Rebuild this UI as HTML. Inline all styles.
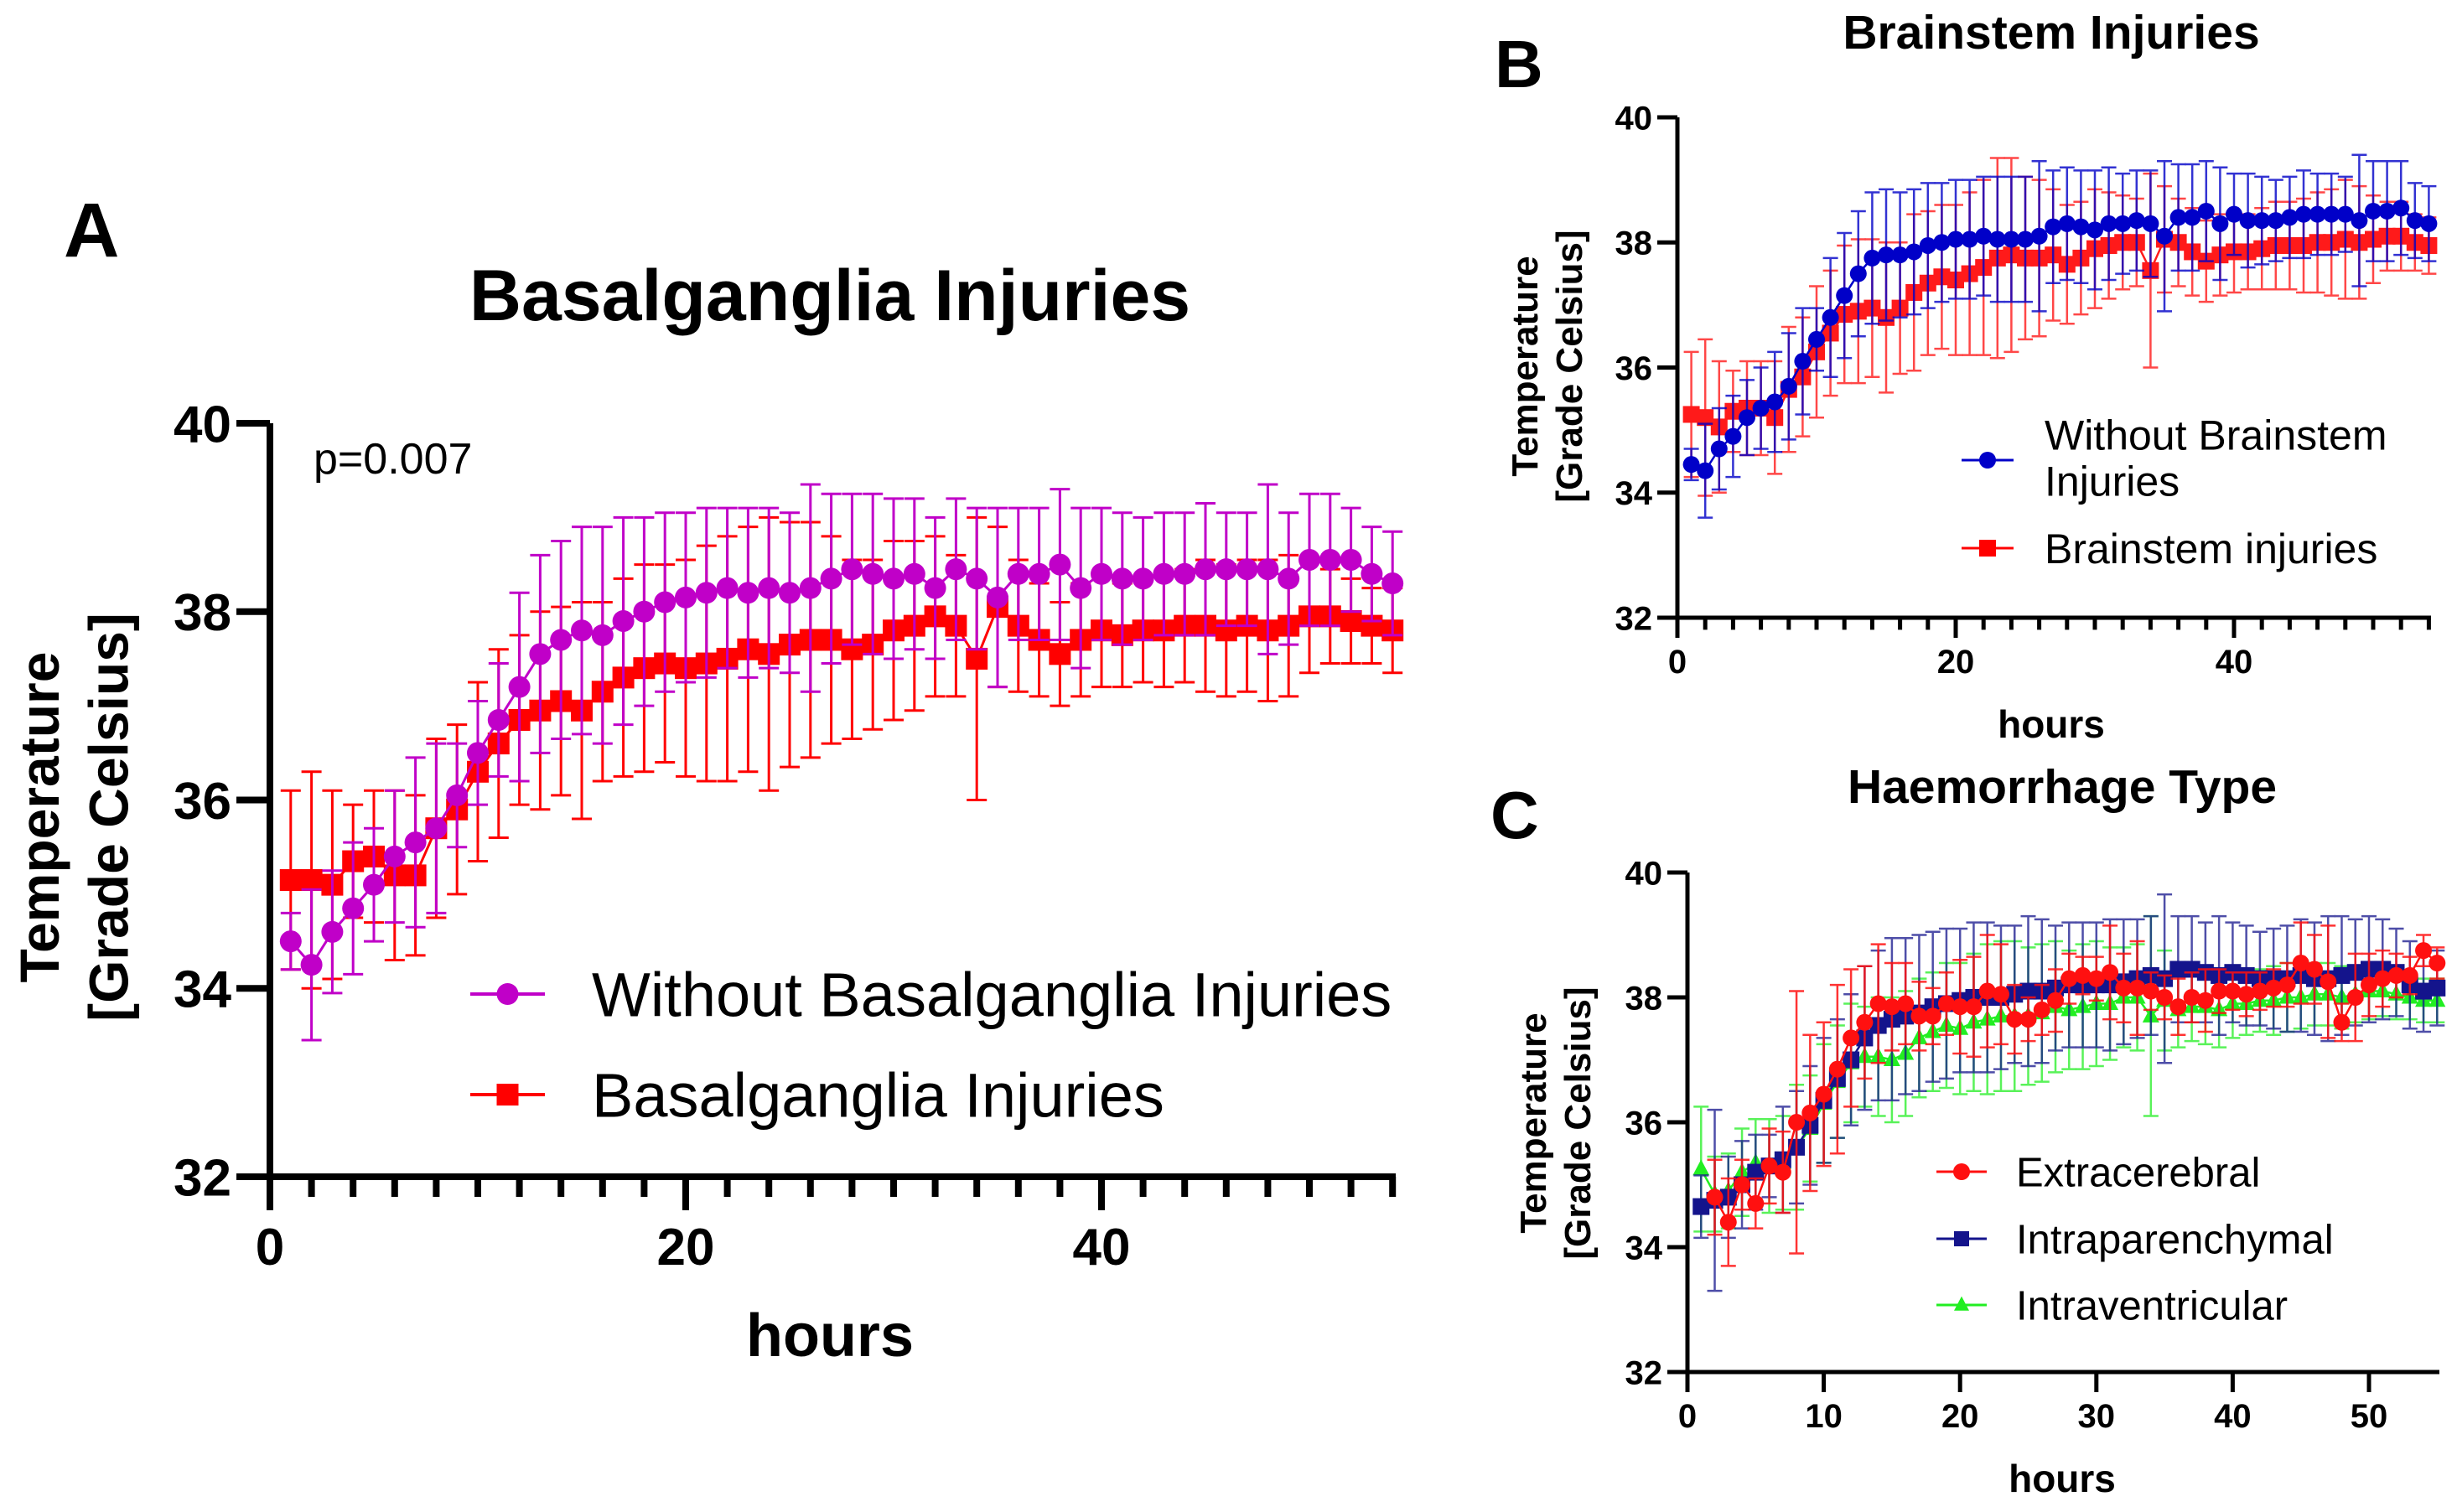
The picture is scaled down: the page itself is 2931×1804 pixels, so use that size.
<!DOCTYPE html>
<html><head><meta charset="utf-8"><style>
html,body{margin:0;padding:0;background:#fff;}
svg{display:block;}
.t{font-family:"Liberation Sans",sans-serif;}
.n{font-family:"Liberation Sans Narrow","Liberation Sans",sans-serif;}
</style></head><body>
<svg id="fig" width="2931" height="1804" viewBox="0 0 2931 1804" xmlns="http://www.w3.org/2000/svg">
<rect width="2931" height="1804" fill="#fff"/>
</svg>
<script>
// ---- Panel A data ----
const hoursA = [1,2,3,4,5,6,7,8,9,10,11,12,13,14,15,16,17,18,19,20,21,22,23,24,25,26,27,28,29,30,31,32,33,34,35,36,37,38,39,40,41,42,43,44,45,46,47,48,49,50,51,52,53,54];
const aWithout = [34.5,34.25,34.6,34.85,35.1,35.4,35.55,35.7,36.05,36.5,36.85,37.2,37.55,37.7,37.8,37.75,37.9,38.0,38.1,38.15,38.2,38.25,38.2,38.25,38.2,38.25,38.35,38.45,38.4,38.35,38.4,38.25,38.45,38.35,38.15,38.4,38.4,38.5,38.25,38.4,38.35,38.35,38.4,38.4,38.45,38.45,38.45,38.45,38.35,38.55,38.55,38.55,38.4,38.3];
const aWithoutErr = [0.3,0.8,0.65,0.7,0.6,0.7,0.9,0.9,0.55,0.55,0.6,1.0,1.05,1.05,1.1,1.15,1.1,1.0,0.95,0.9,0.9,0.85,0.9,0.85,0.85,1.1,0.9,0.8,0.85,0.85,0.8,0.75,0.75,0.75,0.95,0.7,0.7,0.8,0.85,0.7,0.7,0.65,0.65,0.65,0.7,0.6,0.6,0.9,0.7,0.7,0.7,0.55,0.5,0.55];
const aWith = [35.15,35.15,35.1,35.35,35.4,35.2,35.2,35.7,35.9,36.3,36.6,36.85,36.95,37.05,36.95,37.15,37.3,37.4,37.45,37.4,37.45,37.5,37.6,37.55,37.65,37.7,37.7,37.6,37.65,37.8,37.85,37.95,37.85,37.5,38.05,37.85,37.7,37.55,37.7,37.8,37.75,37.8,37.8,37.85,37.85,37.8,37.85,37.8,37.85,37.95,37.95,37.9,37.85,37.8];
const aWithErr = [0.95,1.15,1.0,0.6,0.7,0.9,0.85,0.95,0.9,0.95,1.0,0.9,1.05,1.0,1.15,0.95,1.05,1.1,1.05,1.15,1.25,1.3,1.3,1.45,1.3,1.25,1.1,0.95,0.9,0.95,0.9,0.85,0.75,1.5,0.85,0.7,0.6,0.55,0.6,0.6,0.55,0.55,0.6,0.6,0.7,0.7,0.7,0.75,0.75,0.6,0.5,0.45,0.4,0.45];
// ---- Panel B data ----
const hoursB = hoursA;
const bWithout = [34.45,34.35,34.7,34.9,35.2,35.35,35.45,35.7,36.1,36.45,36.8,37.15,37.5,37.75,37.8,37.8,37.85,37.95,38.0,38.05,38.05,38.1,38.05,38.05,38.05,38.1,38.25,38.3,38.25,38.2,38.3,38.3,38.35,38.3,38.1,38.4,38.4,38.5,38.3,38.45,38.35,38.35,38.35,38.4,38.45,38.45,38.45,38.45,38.35,38.5,38.5,38.55,38.35,38.3];
const bWithoutErr = [0.25,0.75,0.65,0.65,0.6,0.65,0.8,0.85,0.85,0.5,0.95,1.0,1.0,1.05,1.05,1.0,1.0,1.0,0.95,0.95,0.95,0.95,1.0,1.0,1.0,1.2,0.9,0.9,0.9,0.95,0.9,0.8,0.8,0.85,1.2,0.85,0.85,0.8,0.9,0.65,0.75,0.7,0.65,0.65,0.7,0.65,0.65,0.6,1.05,0.8,0.8,0.75,0.6,0.6];
const bWith = [35.25,35.2,35.05,35.3,35.35,35.35,35.2,35.65,35.85,36.25,36.55,36.85,36.9,36.95,36.8,36.95,37.2,37.35,37.45,37.4,37.5,37.6,37.75,37.8,37.75,37.75,37.8,37.65,37.75,37.9,37.95,38.0,38.0,37.55,38.05,38.0,37.85,37.7,37.8,37.85,37.85,37.9,37.95,37.95,37.95,38.0,38.0,38.05,38.0,38.05,38.1,38.1,38.0,37.95];
const bWithErr = [1.0,1.25,1.05,0.65,0.75,0.75,0.9,1.0,0.95,1.05,1.0,1.1,1.15,1.1,1.2,1.05,1.25,1.15,1.15,1.2,1.3,1.4,1.6,1.55,1.3,1.25,1.05,0.95,0.9,0.95,0.85,0.75,0.7,1.55,0.85,0.7,0.7,0.65,0.65,0.65,0.6,0.65,0.7,0.7,0.75,0.8,0.85,0.95,0.9,0.7,0.55,0.55,0.45,0.45];
// ---- Panel C data ----
const hoursC = [1,2,3,4,5,6,7,8,9,10,11,12,13,14,15,16,17,18,19,20,21,22,23,24,25,26,27,28,29,30,31,32,33,34,35,36,37,38,39,40,41,42,43,44,45,46,47,48,49,50,51,52,53,54,55];
const cExtraHours = [2,3,4,5,6,7,8,9,10,11,12,13,14,15,16,17,18,19,20,21,22,23,24,25,26,27,28,29,30,31,32,33,34,35,36,37,38,39,40,41,42,43,44,45,46,47,48,49,50,51,52,53,54,55];
const cExtra = [34.8,34.4,35.0,34.7,35.3,35.2,36.0,36.15,36.45,36.85,37.35,37.6,37.9,37.85,37.9,37.7,37.7,37.9,37.85,37.85,38.1,38.05,37.65,37.65,37.8,37.95,38.3,38.35,38.3,38.4,38.15,38.15,38.1,38.0,37.85,38.0,37.95,38.1,38.1,38.05,38.1,38.15,38.2,38.55,38.45,38.25,37.6,38.0,38.2,38.3,38.35,38.35,38.75,38.55];
const cExtraErr = [0.6,0.7,0.4,0.4,0.6,0.65,2.1,1.25,1.15,1.35,1.1,0.9,0.95,0.7,0.65,0.55,0.45,0.5,0.75,0.8,0.9,0.8,0.55,0.35,0.4,0.5,0.4,0.3,0.35,0.75,0.55,0.75,0.3,0.35,0.45,0.4,0.5,0.35,0.3,0.35,0.3,0.3,0.35,0.65,0.55,0.9,0.3,0.7,0.5,0.45,0.35,0.3,0.25,0.25];
const cIntra = [34.65,34.75,34.8,35.0,35.2,35.3,35.4,35.6,35.95,36.35,36.7,37.0,37.35,37.55,37.65,37.7,37.75,37.85,37.9,37.95,38.0,38.0,38.0,38.05,38.1,38.1,38.15,38.2,38.2,38.2,38.2,38.25,38.3,38.35,38.3,38.45,38.45,38.4,38.35,38.4,38.35,38.3,38.3,38.3,38.35,38.3,38.3,38.35,38.4,38.45,38.45,38.4,38.2,38.1,38.15];
const cIntraErr = [0.5,1.45,0.65,0.7,0.6,0.5,0.85,0.9,0.95,1.0,0.95,1.05,1.15,1.2,1.3,1.25,1.25,1.2,1.2,1.15,1.2,1.2,1.15,1.1,1.2,1.15,1.0,1.0,1.0,1.0,1.05,1.0,0.95,0.95,1.35,0.85,0.85,0.8,0.95,0.8,0.8,0.75,0.8,0.85,0.9,0.9,1.0,0.95,0.85,0.85,0.8,0.7,0.7,0.65,0.6];
const cVent = [35.25,34.85,34.9,35.2,35.35,35.3,35.35,35.6,35.9,36.3,36.65,36.95,37.05,37.05,37.0,37.1,37.35,37.45,37.55,37.5,37.6,37.65,37.7,37.7,37.7,37.75,37.85,37.8,37.85,37.9,37.9,38.0,38.0,37.7,37.95,37.8,37.85,37.85,37.8,37.9,37.9,37.95,37.95,38.0,38.0,38.05,38.05,38.0,38.05,38.1,38.1,38.05,38.0,37.95,37.95];
const cVentErr = [1.0,0.6,0.6,0.7,0.7,0.75,0.75,1.0,0.85,0.95,0.9,0.95,0.8,0.95,1.0,1.0,0.95,0.95,1.0,1.05,1.1,1.2,1.2,1.2,1.1,1.1,1.05,0.95,1.0,1.0,0.9,0.8,0.85,1.6,0.8,0.6,0.55,0.6,0.6,0.55,0.5,0.5,0.55,0.55,0.5,0.5,0.5,0.5,0.45,0.45,0.4,0.4,0.35,0.35,0.35];
const yTicks = [32,34,36,38,40];
const xTicksAB = [0,20,40];
const xTicksC = [0,10,20,30,40,50];

const NS = 'http://www.w3.org/2000/svg';
const svg = document.getElementById('fig');
function mk(tag, attrs, parent){
  const e = document.createElementNS(NS, tag);
  for (const k in attrs) e.setAttribute(k, attrs[k]);
  (parent||svg).appendChild(e);
  return e;
}
function txt(s, attrs, parent){ const e = mk('text', attrs, parent); e.textContent = s; return e; }

function panel(P){
  const g = mk('g', {});
  
  
  const sx = h => P.x0 + h * P.k;
  const sy = v => P.y32 - (v - 32) * (P.y32 - P.y40) / 8;
  P.sx = sx; P.sy = sy;
  const ax = mk('g', {stroke:'#000', 'stroke-width':P.aw, fill:'none'}, g);
  
  
  mk('line', {x1:P.x0, y1:P.y40, x2:P.x0, y2:P.y32 + P.aw/2}, ax);
  mk('line', {x1:P.x0 - P.aw/2, y1:P.y32, x2:P.xEnd, y2:P.y32}, ax);
  for (const v of yTicks){
    mk('line', {x1:P.x0 - P.tl, y1:sy(v), x2:P.x0, y2:sy(v)}, ax);
    const t = txt(String(v), {x:P.x0 - P.tl - 6, y:sy(v) + P.tf*0.36, 'text-anchor':'end', 'font-size':P.tf, 'font-weight':'bold', class:'n'}, g);
    
    
  }
  if (P.minor) {
    for (let h = 2; sx(h) <= P.xEnd + 1; h += 2) {
      if (P.xt.indexOf(h) >= 0) continue;
      mk('line', {x1:sx(h), y1:P.y32, x2:sx(h), y2:P.y32 + P.tl*0.6}, ax);
    }
  }
  for (const h of P.xt){
    mk('line', {x1:sx(h), y1:P.y32, x2:sx(h), y2:P.y32 + P.tl}, ax);
    const t = txt(String(h), {x:sx(h), y:P.y32 + P.tl + P.tf*1.05, 'text-anchor':'middle', 'font-size':P.tf, 'font-weight':'bold', class:'n'}, g);
    
    
  }
  const yl = mk('g', {transform:'translate(' + P.ylx + ',' + P.yly + ') rotate(-90)'}, g);
  
  
  txt('Temperature', {x:0, y:0, 'text-anchor':'middle', 'font-size':P.lf, 'font-weight':'bold', class:'t'}, yl);
  txt('[Grade Celsius]', {x:0, y:P.lf*P.ls, 'text-anchor':'middle', 'font-size':P.lf, 'font-weight':'bold', class:'t'}, yl);
  const xl = txt('hours', {x:P.hx, y:P.hy, 'text-anchor':'middle', 'font-size':P.hf, 'font-weight':'bold', class:'t'}, g);
  
  
  return g;
}

function marker(shape, x, y, r, color, parent){
  if (shape === 'circle') return mk('circle', {cx:x, cy:y, r:r, fill:color}, parent);
  if (shape === 'square') return mk('rect', {x:x - r, y:y - r, width:2*r, height:2*r, fill:color}, parent);
  return mk('polygon', {points:(x)+','+(y-r*1.15)+' '+(x+r)+','+(y+r*0.75)+' '+(x-r)+','+(y+r*0.75), fill:color}, parent);
}

function series(P, g, hours, vals, errs, color, shape, r, name, ew, cap, op){
  const sg = mk('g', {}, g);
  
  
  const eg = mk('g', {stroke:color, 'stroke-width':ew, opacity:op}, sg);
  for (let i = 0; i < vals.length; i++){
    const x = P.sx(hours[i]);
    const y1 = P.sy(vals[i] + errs[i]), y2 = P.sy(vals[i] - errs[i]);
    const eb = mk('path', {d:'M'+x+' '+y1+'V'+y2+'M'+(x-cap)+' '+y1+'H'+(x+cap)+'M'+(x-cap)+' '+y2+'H'+(x+cap)}, eg);
    
    
  }
  let pts = '';
  for (let i = 0; i < vals.length; i++) pts += P.sx(hours[i]) + ',' + P.sy(vals[i]) + ' ';
  mk('polyline', {points:pts, fill:'none', stroke:color, 'stroke-width':ew}, sg);
  for (let i = 0; i < vals.length; i++){
    const m = marker(shape, P.sx(hours[i]), P.sy(vals[i]), r, color, sg);
    
    
  }
}

function legend(g, x1, x2, y, tx, label, color, shape, r, fs, ew, extra){
  const lg = mk('g', {}, g);
  
  
  mk('line', {x1:x1, y1:y, x2:x2, y2:y, stroke:color, 'stroke-width':ew}, lg);
  marker(shape, (x1+x2)/2, y, r, color, lg);
  if (extra) {
    txt(label, {x:tx, y:y - fs*0.25, 'font-size':fs, class:'t'}, lg);
    txt(extra, {x:tx, y:y + fs*0.85, 'font-size':fs, class:'t'}, lg);
  } else {
    txt(label, {x:tx, y:y + fs*0.36, 'font-size':fs, class:'t'}, lg);
  }
}

// ---- Panel A ----
const PA = {name:'panel-a', x0:322, k:24.8, y40:505, y32:1404, xEnd:1665, aw:8, tl:40, tf:62, lf:66, ls:1.25, ylx:70, yly:975, hx:990, hy:1618, hf:72, xt:xTicksAB, minor:true};
const gA = panel(PA);
series(PA, gA, hoursA, aWith, aWithErr, '#ff0000', 'square', 13, 'series-basalganglia', 3, 12, 1);
series(PA, gA, hoursA, aWithout, aWithoutErr, '#c000c8', 'circle', 13, 'series-without-basalganglia', 3, 12, 1);
legend(gA, 561, 650, 1186, 706, 'Without Basalganglia Injuries', '#c000c8', 'circle', 13, 74, 4);
legend(gA, 561, 650, 1306, 706, 'Basalganglia Injuries', '#ff0000', 'square', 13, 74, 4);
let t;
t = txt('Basalganglia Injuries', {x:990, y:382, 'text-anchor':'middle', 'font-size':86, 'font-weight':'bold', class:'t'}, gA);


t = txt('A', {x:76, y:306, 'font-size':92, 'font-weight':'bold', class:'t'}, gA);


t = txt('p=0.007', {x:374, y:565, 'font-size':52, class:'t'}, gA);



// ---- Panel B ----
const PB = {name:'panel-b', x0:2001, k:16.6, y40:140, y32:737, xEnd:2900, aw:5, tl:24, tf:40, lf:44, ls:1.2, ylx:1834, yly:437, hx:2447, hy:880, hf:46, xt:xTicksAB, minor:true};
const gB = panel(PB);
series(PB, gB, hoursB, bWith, bWithErr, '#ff1a1a', 'square', 10, 'series-brainstem', 2.5, 9, 0.8);
series(PB, gB, hoursB, bWithout, bWithoutErr, '#0000c8', 'circle', 10, 'series-without-brainstem', 2.5, 9, 0.8);
legend(gB, 2340, 2402, 549, 2439, 'Without Brainstem', '#0000c8', 'circle', 10, 50, 3, 'Injuries');
legend(gB, 2340, 2402, 654, 2439, 'Brainstem injuries', '#ff0000', 'square', 10, 50, 3);
t = txt('Brainstem Injuries', {x:2447, y:58, 'text-anchor':'middle', 'font-size':57, 'font-weight':'bold', class:'t'}, gB);


t = txt('B', {x:1783, y:104, 'font-size':80, 'font-weight':'bold', class:'t'}, gB);



// ---- Panel C ----
const PC = {name:'panel-c', x0:2013, k:16.26, y40:1041, y32:1637, xEnd:2910, aw:5, tl:24, tf:40, lf:44, ls:1.2, ylx:1844, yly:1340, hx:2460, hy:1780, hf:46, xt:xTicksC, minor:false};
const gC = panel(PC);
series(PC, gC, hoursC, cVent, cVentErr, '#22ee22', 'triangle', 10, 'series-intraventricular', 2.5, 9, 0.75);
series(PC, gC, hoursC, cIntra, cIntraErr, '#14148c', 'square', 10, 'series-intraparenchymal', 2.5, 9, 0.75);
series(PC, gC, cExtraHours, cExtra, cExtraErr, '#ff1010', 'circle', 10, 'series-extracerebral', 2.5, 9, 0.85);
legend(gC, 2310, 2370, 1398, 2405, 'Extracerebral', '#ff1010', 'circle', 10, 49, 3);
legend(gC, 2310, 2370, 1478, 2405, 'Intraparenchymal', '#14148c', 'square', 9, 49, 3);
legend(gC, 2310, 2370, 1557, 2405, 'Intraventricular', '#22ee22', 'triangle', 9, 49, 3);
t = txt('Haemorrhage Type', {x:2460, y:958, 'text-anchor':'middle', 'font-size':57, 'font-weight':'bold', class:'t'}, gC);


t = txt('C', {x:1778, y:1000, 'font-size':80, 'font-weight':'bold', class:'t'}, gC);


</script>
</body></html>
